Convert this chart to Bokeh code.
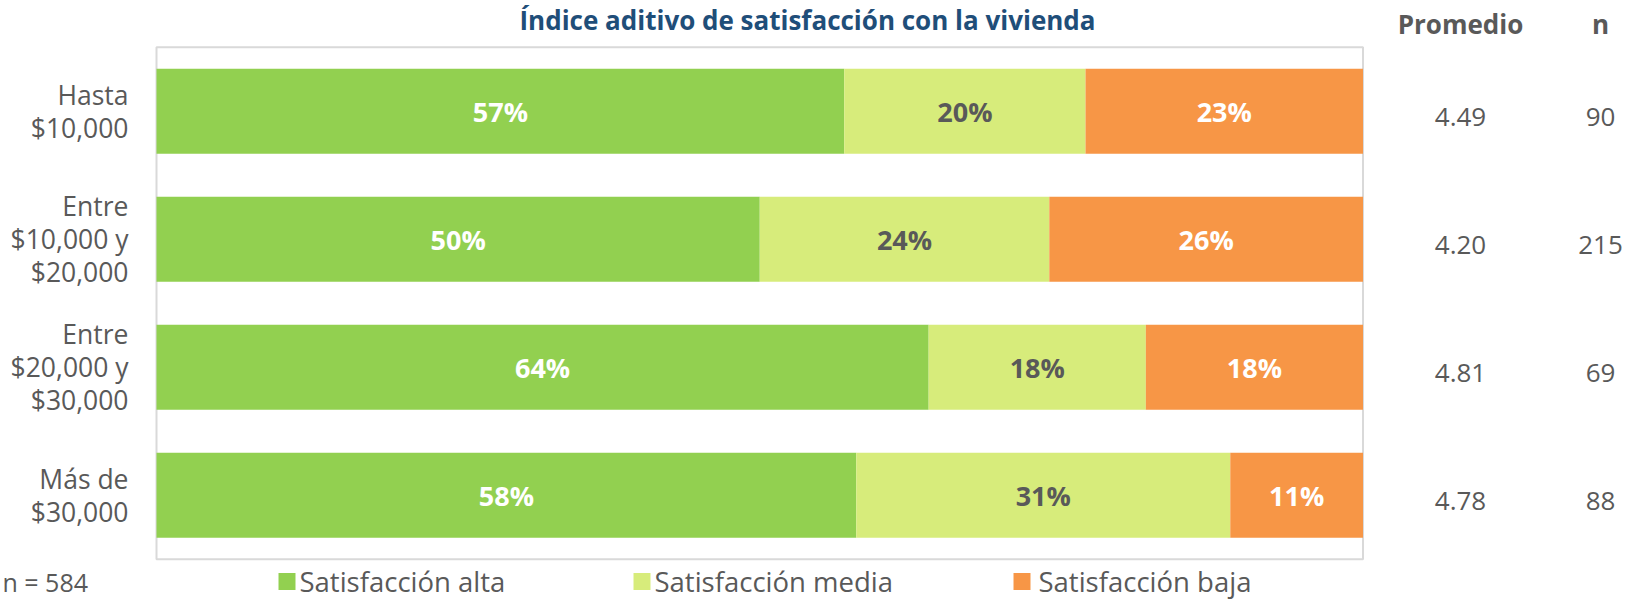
from bokeh.plotting import figure
from bokeh.models import Range1d, ColumnDataSource
from bokeh.core.properties import value
from bokeh.embed import file_html
from bokeh.resources import INLINE

# ---------------- data ----------------
categories = ["Hasta\n$10,000", "Entre\n$10,000 y\n$20,000", "Entre\n$20,000 y\n$30,000", "Más de\n$30,000"]
alta = [57, 50, 64, 58]
media = [20, 24, 18, 31]
baja = [23, 26, 18, 11]
promedio = ["4.49", "4.20", "4.81", "4.78"]
n_vals = ["90", "215", "69", "88"]
series_names = ["Satisfacción alta", "Satisfacción media", "Satisfacción baja"]
series_colors = ["#92D050", "#D7EC7B", "#F79646"]
label_colors = ["#FFFFFF", "#595959", "#FFFFFF"]
chart_title = "Índice aditivo de satisfacción con la vivienda"
header_prom = "Promedio"
header_n = "n"
total_n_text = "n = 584"

# ---------------- geometry (canvas pixels) ----------------
W, H = 1628, 600
X0_PX, X100_PX = 156.0, 1362.5          # 0% and 100% of the bars
PXU = (X100_PX - X0_PX) / 100.0
ROW_PX = 128.0
ROW0_PX = 110.7                          # centre of first row


def px2x(px):
    return (px - X0_PX) / PXU


def px2y(py):
    return (py - ROW0_PX) / ROW_PX


FONT = value("Open Sans")
GREY = "#595959"

p = figure(width=W, height=H, output_backend="svg", toolbar_location=None,
           x_range=Range1d(px2x(0), px2x(W)), y_range=Range1d(px2y(H), px2y(0)),
           x_axis_location=None, y_axis_location=None, min_border=0)
p.outline_line_color = None
p.grid.visible = False
p.background_fill_color = "white"
p.border_fill_color = "white"

rows = list(range(len(categories)))

# plot-area frame
p.quad(left=[0], right=[100], top=[-0.5], bottom=[len(categories) - 0.5],
       fill_color=None, line_color="#D9D9D9", line_width=2)

# stacked bars
series = [alta, media, baja]
lefts = [0] * len(categories)
for vals, col, lcol in zip(series, series_colors, label_colors):
    rights = [l + v for l, v in zip(lefts, vals)]
    src = ColumnDataSource(dict(y=rows, left=lefts, right=rights,
                                mid=[(l + r) / 2 for l, r in zip(lefts, rights)],
                                lab=[f"{v}%" for v in vals]))
    p.hbar(y="y", left="left", right="right", height=0.664, source=src,
           fill_color=col, line_color=None)
    p.text(x="mid", y="y", text="lab", source=src, text_align="center",
           text_baseline="middle", text_font=FONT, text_font_style="bold",
           text_font_size="27px", text_color=lcol)
    lefts = rights

# category labels
p.text(x=[px2x(128)] * len(rows), y=rows, text=categories, text_align="right",
       text_baseline="middle", text_font=FONT, text_font_size="26.5px",
       text_color=GREY, text_line_height=0.92)

# title
p.text(x=[px2x(807)], y=[px2y(19)], text=[chart_title], text_align="center",
       text_baseline="middle", text_font=FONT, text_font_style="bold",
       text_font_size="26px", text_color="#1F4E79")

# right columns
p.text(x=[px2x(1460), px2x(1600)], y=[px2y(23)] * 2, text=[header_prom, header_n],
       text_align="center", text_baseline="middle", text_font=FONT,
       text_font_style="bold", text_font_size="26px", text_color=GREY)
p.text(x=[px2x(1460)] * len(rows), y=rows, text=promedio, y_offset=6,
       text_align="center", text_baseline="middle", text_font=FONT,
       text_font_size="26px", text_color=GREY)
p.text(x=[px2x(1600)] * len(rows), y=rows, text=n_vals, y_offset=6,
       text_align="center", text_baseline="middle", text_font=FONT,
       text_font_size="26px", text_color=GREY)

# legend
leg_y = px2y(581)
sq_px = [286.5, 641.5, 1021.5]
txt_px = [299, 654, 1038]
p.scatter(x=[px2x(v) for v in sq_px], y=[leg_y] * 3, marker="square", size=17,
          fill_color=series_colors, line_color=None)
p.text(x=[px2x(v) for v in txt_px], y=[leg_y] * 3, text=series_names,
       text_align="left", text_baseline="middle", text_font=FONT,
       text_font_size="27.5px", text_color=GREY)
p.text(x=[px2x(2)], y=[leg_y], text=[total_n_text], text_align="left",
       text_baseline="middle", text_font=FONT, text_font_size="25px",
       text_color=GREY)

open("out.html", "w").write(file_html(p, INLINE))
